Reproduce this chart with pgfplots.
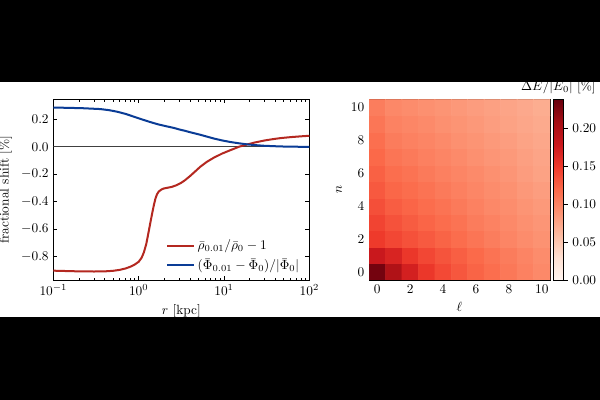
\documentclass[border=0pt]{standalone}
\usepackage{pgfplots}
\pgfplotsset{compat=1.18}
\definecolor{cred}{RGB}{180,40,32}
\definecolor{cblue}{RGB}{10,60,150}
\pgfplotsset{colormap={reds}{rgb255=(255,245,240) rgb255=(254,224,210) rgb255=(252,187,161) rgb255=(252,146,114) rgb255=(251,106,74) rgb255=(239,59,44) rgb255=(203,24,29) rgb255=(165,15,21) rgb255=(103,0,13)}}
\pgfplotsset{every axis/.append style={scale only axis, tick align=inside,
  major tick length=3pt, minor tick length=1.7pt,
  axis line style={line width=0.6pt},
  every tick/.append style={black, line width=0.5pt}}}
\begin{document}
\begin{tikzpicture}
\fill[black] (0pt,0pt) rectangle (450pt,300pt);
\fill[white] (0pt,62.25pt) rectangle (450pt,238.5pt);
\useasboundingbox (0pt,0pt) rectangle (450pt,300pt);
\begin{axis}[at={(40pt,90pt)}, anchor=south west, width=192pt, height=135.5pt,
  xmode=log, xmin=0.1, xmax=100, ymin=-0.973, ymax=0.346,
  ytick={-0.8,-0.6,-0.4,-0.2,0,0.2},
  yticklabel style={/pgf/number format/fixed, /pgf/number format/precision=1, /pgf/number format/fixed zerofill},
  xlabel={$r$ [kpc]}, ylabel={fractional shift [\%]},
  legend style={draw=none, fill=none, at={(0.425,0.255)}, anchor=north west, cells={anchor=west}, row sep=1.5pt},
  legend image code/.code={\draw[#1] (0pt,0pt) -- (20pt,0pt);}]
\addplot[black!75, line width=0.45pt, forget plot] coordinates {(0.1,0) (100,0)};
\addplot[cred, line width=1.5pt] coordinates {
(0.1,-0.905) (0.15,-0.908) (0.2,-0.910) (0.3,-0.911) (0.4,-0.910) (0.5,-0.906)
(0.6,-0.899) (0.7,-0.889) (0.8,-0.876) (0.9,-0.860) (1.0,-0.840) (1.08,-0.812)
(1.15,-0.772) (1.23,-0.708) (1.31,-0.620) (1.38,-0.545) (1.44,-0.487) (1.50,-0.432)
(1.57,-0.380) (1.64,-0.347) (1.72,-0.327) (1.85,-0.312) (1.97,-0.305) (2.2,-0.299)
(2.45,-0.293) (2.75,-0.282) (3.1,-0.266) (3.5,-0.244) (4.0,-0.214) (4.6,-0.180)
(5.3,-0.145) (6.3,-0.110) (7.6,-0.080) (9.5,-0.050) (12,-0.024) (15,0.000)
(18.8,0.017) (23,0.031) (29.5,0.045) (37,0.055) (46,0.063) (60,0.070) (80,0.076) (100,0.080)};
\addlegendentry{$\bar\rho_{0.01}/\bar\rho_0 - 1$}
\addplot[cblue, line width=1.5pt] coordinates {
(0.1,0.286) (0.15,0.284) (0.225,0.281) (0.355,0.275) (0.45,0.267) (0.557,0.256)
(0.7,0.240) (0.873,0.220) (1.1,0.199) (1.37,0.180) (1.7,0.163) (2.16,0.148)
(2.6,0.137) (3.0,0.126) (3.5,0.116) (4.0,0.106) (5.3,0.087) (6.3,0.074) (7.6,0.060)
(9.5,0.046) (12,0.034) (15,0.025) (18.8,0.017) (23,0.012) (29.5,0.007) (46,0.002) (70,0.000) (100,-0.001)};
\addlegendentry{$(\bar\Phi_{0.01}-\bar\Phi_0)/|\bar\Phi_0|$}
\end{axis}
\begin{axis}[at={(276.75pt,90pt)}, anchor=south west, width=135.75pt, height=135.5pt,
  xmin=-0.5, xmax=10.5, ymin=-0.5, ymax=10.5,
  xtick={0,2,...,10}, ytick={0,2,...,10},
  xlabel={$\ell$}, ylabel={$n$},
  colormap name=reds, point meta min=0, point meta max=0.238,
  colorbar,
  colorbar style={at={(parent axis.north east)}, anchor=north west, xshift=-6.25pt,
    width=8pt, scale only axis, tick align=outside, ytick pos=right,
    major tick length=3pt,
    ytick={0,0.05,0.1,0.15,0.2},
    yticklabel style={/pgf/number format/fixed, /pgf/number format/precision=2, /pgf/number format/fixed zerofill},
    title={$\Delta E/|E_0|$ [\%]}, title style={yshift=-5.25pt}}]
\addplot[matrix plot*, mesh/cols=11, point meta=explicit] table[meta=c, row sep=\\] {
x y c\\
0 0 0.232\\ 1 0 0.200\\ 2 0 0.172\\ 3 0 0.152\\ 4 0 0.140\\ 5 0 0.131\\ 6 0 0.123\\ 7 0 0.116\\ 8 0 0.109\\ 9 0 0.102\\ 10 0 0.096\\
0 1 0.180\\ 1 1 0.168\\ 2 1 0.152\\ 3 1 0.141\\ 4 1 0.133\\ 5 1 0.126\\ 6 1 0.119\\ 7 1 0.112\\ 8 1 0.106\\ 9 1 0.100\\ 10 1 0.094\\
0 2 0.150\\ 1 2 0.141\\ 2 2 0.135\\ 3 2 0.129\\ 4 2 0.123\\ 5 2 0.117\\ 6 2 0.111\\ 7 2 0.105\\ 8 2 0.099\\ 9 2 0.094\\ 10 2 0.089\\
0 3 0.143\\ 1 3 0.134\\ 2 3 0.128\\ 3 3 0.122\\ 4 3 0.117\\ 5 3 0.112\\ 6 3 0.106\\ 7 3 0.101\\ 8 3 0.096\\ 9 3 0.091\\ 10 3 0.087\\
0 4 0.136\\ 1 4 0.127\\ 2 4 0.122\\ 3 4 0.117\\ 4 4 0.112\\ 5 4 0.107\\ 6 4 0.102\\ 7 4 0.097\\ 8 4 0.093\\ 9 4 0.088\\ 10 4 0.084\\
0 5 0.130\\ 1 5 0.121\\ 2 5 0.117\\ 3 5 0.112\\ 4 5 0.107\\ 5 5 0.103\\ 6 5 0.098\\ 7 5 0.094\\ 8 5 0.090\\ 9 5 0.085\\ 10 5 0.081\\
0 6 0.125\\ 1 6 0.116\\ 2 6 0.112\\ 3 6 0.107\\ 4 6 0.103\\ 5 6 0.099\\ 6 6 0.095\\ 7 6 0.091\\ 8 6 0.087\\ 9 6 0.082\\ 10 6 0.078\\
0 7 0.120\\ 1 7 0.111\\ 2 7 0.107\\ 3 7 0.103\\ 4 7 0.099\\ 5 7 0.095\\ 6 7 0.091\\ 7 7 0.087\\ 8 7 0.084\\ 9 7 0.080\\ 10 7 0.076\\
0 8 0.115\\ 1 8 0.106\\ 2 8 0.102\\ 3 8 0.099\\ 4 8 0.095\\ 5 8 0.091\\ 6 8 0.088\\ 7 8 0.084\\ 8 8 0.081\\ 9 8 0.077\\ 10 8 0.074\\
0 9 0.110\\ 1 9 0.101\\ 2 9 0.098\\ 3 9 0.095\\ 4 9 0.091\\ 5 9 0.088\\ 6 9 0.085\\ 7 9 0.081\\ 8 9 0.078\\ 9 9 0.075\\ 10 9 0.072\\
0 10 0.105\\ 1 10 0.097\\ 2 10 0.094\\ 3 10 0.091\\ 4 10 0.088\\ 5 10 0.085\\ 6 10 0.082\\ 7 10 0.079\\ 8 10 0.076\\ 9 10 0.073\\ 10 10 0.070\\
};
\end{axis}
\end{tikzpicture}
\end{document}
